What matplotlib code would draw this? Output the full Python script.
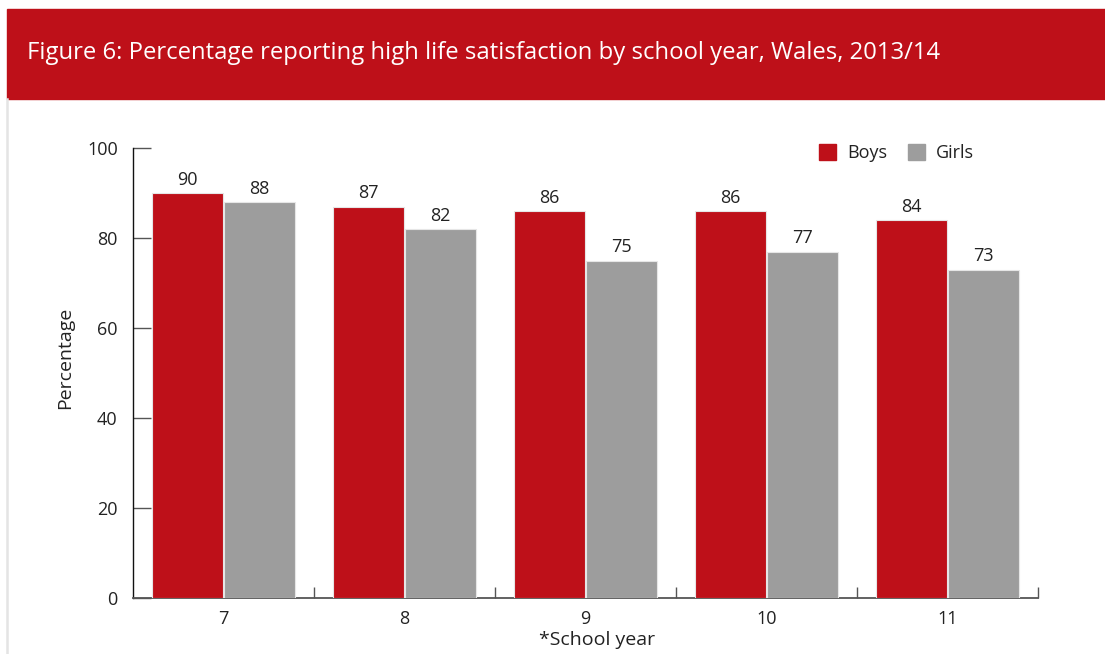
import numpy as np
import matplotlib.pyplot as plt
from matplotlib.patches import Rectangle, Patch
from matplotlib.lines import Line2D

plt.rcParams['font.family'] = ['Open Sans', 'DejaVu Sans']

# -------- data --------
years = ['7', '8', '9', '10', '11']
boys = [90, 87, 86, 86, 84]
girls = [88, 82, 75, 77, 73]
yticks = [0, 20, 40, 60, 80, 100]
title = 'Figure 6: Percentage reporting high life satisfaction by school year, Wales, 2013/14'

red = '#be1019'
grey = '#9d9d9d'
txt = '#222222'

W, H = 1105, 654
fig = plt.figure(figsize=(W / 100, H / 100), dpi=100)

# header band + left border
fig.patches.append(Rectangle((7 / W, 1 - 99 / H), 1098 / W, 90 / H,
                             transform=fig.transFigure, color=red, zorder=0))
fig.lines.append(Line2D([7 / W, 7 / W], [0, 1 - 99 / H], transform=fig.transFigure,
                        color='#e4e4e4', linewidth=1.8))
fig.text(27 / W, 1 - 53 / H, title, color='white', fontsize=17.2, va='center', ha='left')

ax = fig.add_axes([133 / W, 1 - 598 / H, 905 / W, 450 / H])
x = np.arange(len(years))
bw = 0.39
b1 = ax.bar(x - 0.2, boys, bw, color=red, edgecolor='#e6e6e6', linewidth=0.8, zorder=3, label='Boys')
b2 = ax.bar(x + 0.2, girls, bw, color=grey, edgecolor='#e6e6e6', linewidth=0.8, zorder=3, label='Girls')
for bars in (b1, b2):
    ax.bar_label(bars, padding=3, fontsize=13, color=txt)

ax.set_xlim(-0.5, len(years) - 0.5)
ax.set_ylim(0, 100)
ax.spines['top'].set_visible(False)
ax.spines['right'].set_visible(False)
ax.spines['left'].set_color('#111111')
ax.spines['left'].set_linewidth(1.0)
ax.spines['bottom'].set_color('#555555')
ax.spines['bottom'].set_linewidth(1.3)

ax.set_yticks(yticks)
ax.tick_params(axis='y', direction='in', length=13, width=1.0, color='#555555',
               labelsize=13, labelcolor=txt, pad=11)
ax.set_xticks(x)
ax.set_xticklabels(years)
ax.set_xticks(np.arange(0.5, len(years)), minor=True)
ax.tick_params(axis='x', which='major', length=0, labelsize=13, labelcolor=txt, pad=9)
ax.tick_params(axis='x', which='minor', direction='in', length=8, width=1.0, color='#555555')

ax.set_ylabel('Percentage', fontsize=14, color=txt)
ax.yaxis.set_label_coords((74 - 133) / 905, (598 - 358) / 450)
ax.set_xlabel('*School year', fontsize=14, color=txt, va='center')
ax.xaxis.set_label_coords((597 - 133) / 905, (598 - 640) / 450)

handles = [Patch(color=red, label='Boys'), Patch(color=grey, label='Girls')]
ax.legend(handles=handles, loc='upper right', bbox_to_anchor=((990 - 133) / 905, 1.045),
          ncol=2, frameon=False, fontsize=13, handlelength=0.95, handleheight=0.95,
          handletextpad=0.6, columnspacing=1.15, labelcolor=txt)

fig.savefig('out.png', dpi=100)
